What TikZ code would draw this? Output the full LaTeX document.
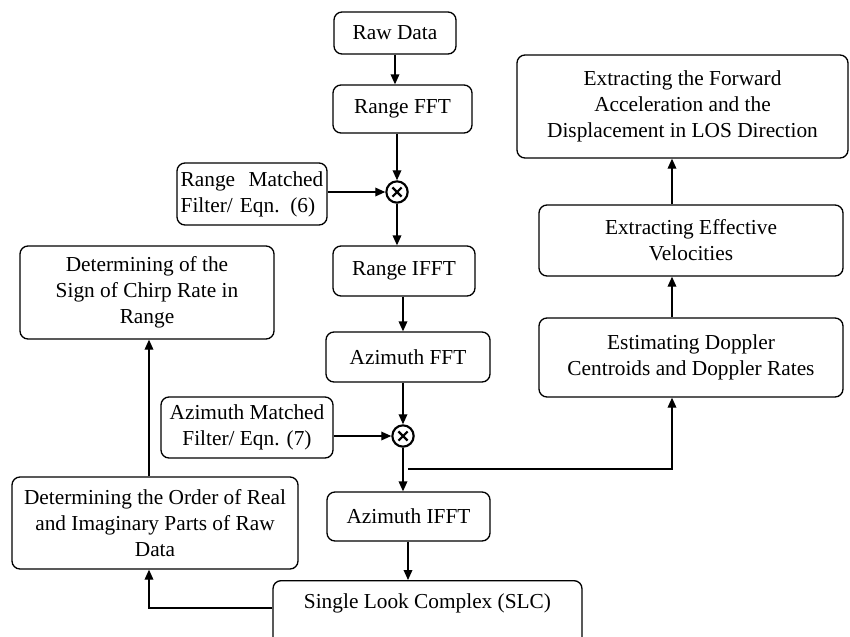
\documentclass[tikz,border=0pt]{standalone}
\usepackage{fontspec}
\setmainfont{Liberation Serif}
\usetikzlibrary{arrows.meta}

\begin{document}
\begin{tikzpicture}[x=0.75pt,y=-0.75pt,
    box/.style 2 args={draw,rounded corners=6pt,line width=1pt,align=center,
      minimum width=#1*0.75pt,minimum height=#2*0.75pt,inner sep=1pt,
      font=\fontsize{16}{19.5}\selectfont},
    arr/.style={-{Triangle[length=7.5pt,width=6.5pt]},line width=1pt},
    mult/.style={circle,draw,line width=1.6pt,minimum size=16pt,inner sep=0pt,
      path picture={\draw[line width=1.6pt]
        ([shift={(-3.4pt,-3.4pt)}]path picture bounding box.center)--([shift={(3.4pt,3.4pt)}]path picture bounding box.center)
        ([shift={(-3.4pt,3.4pt)}]path picture bounding box.center)--([shift={(3.4pt,-3.4pt)}]path picture bounding box.center);}}]
  \clip (0,0) rectangle (850,636);
  % processing chain
  \node[box={122}{42}] (raw) at (395,33) {Raw Data};
  \node[box={139}{48}] (rfft) at (402.5,109) {Range FFT};
  \node[mult] (mul1) at (397,192) {};
  \node[box={150}{62},text width=107pt,align=left] (rmf) at (252,194)
    {Range\hfill Matched\\Filter/ Eqn. (6)};
  \node[box={142}{50}] (rifft) at (404,271) {Range IFFT};
  \node[box={164}{50}] (afft) at (408,357) {Azimuth FFT};
  \node[mult] (mul2) at (403,436) {};
  \node[box={172}{61}] (amf) at (247,427.5) {Azimuth Matched\\Filter/ Eqn. (7)};
  \node[box={163}{49}] (aifft) at (408.5,516.5) {Azimuth IFFT};
  \node[box={309}{10},anchor=north,text height=20pt,text depth=40pt] (slc)
    at (427.5,580) {Single Look Complex (SLC)};
  % left column
  \node[box={286}{92}] (order) at (155,523)
    {Determining the Order of Real\\and Imaginary Parts of Raw\\Data};
  \node[box={254}{93}] (sign) at (147,292.5)
    {Determining of the\\Sign of Chirp Rate in\\Range};
  % right column
  \node[box={331}{103}] (fwd) at (682.5,106.5)
    {Extracting the Forward\\Acceleration and the\\Displacement in LOS Direction};
  \node[box={304}{71}] (eff) at (691,240.5) {Extracting Effective\\Velocities};
  \node[box={304}{79}] (est) at (691,357.5)
    {Estimating Doppler\\Centroids and Doppler Rates};
  \coordinate (br) at (408,469);
  \coordinate (rc) at (672,469);
  \coordinate (lc) at (149,608);

  \draw[arr] (raw.south) -- (raw.south |- rfft.north);
  \draw[arr] (mul1 |- rfft.south) -- (mul1.north);
  \draw[arr] (rmf.east |- mul1) -- (mul1.west);
  \draw[arr] (mul1.south) -- (mul1 |- rifft.north);
  \draw[arr] (rifft.south -| mul2) -- (afft.north -| mul2);
  \draw[arr] (afft.south -| mul2) -- (mul2.north);
  \draw[arr] (amf.east |- mul2) -- (mul2.west);
  \draw[arr] (mul2.south) -- (mul2 |- aifft.north);
  \draw[arr] (aifft.south -| br) -- (slc.north -| br);
  \draw[arr] (br) -| (est.south -| rc);
  \draw[arr] (est.north -| rc) -- (eff.south -| rc);
  \draw[arr] (eff.north -| rc) -- (fwd.south -| rc);
  \draw[arr] (slc.west |- lc) -| (order.south -| lc);
  \draw[arr] (order.north -| lc) -- (sign.south -| lc);
\end{tikzpicture}
\end{document}
